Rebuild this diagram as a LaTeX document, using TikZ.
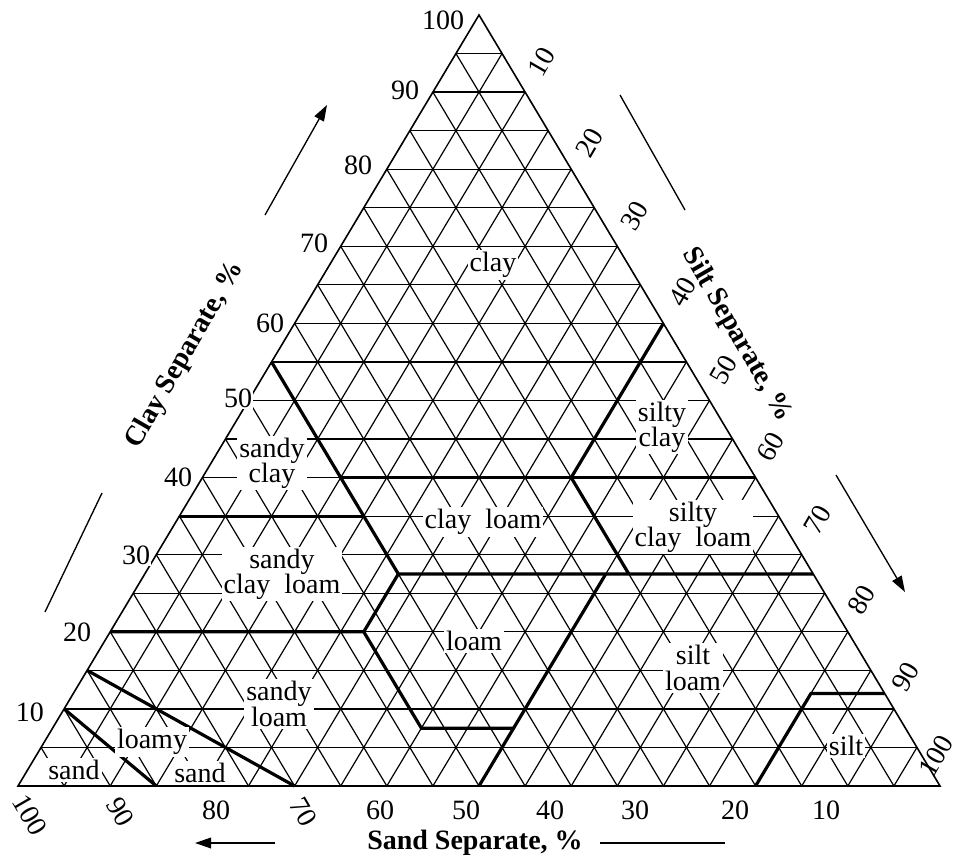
\documentclass[tikz,border=0pt]{standalone}
\usepackage{fontspec}
\setmainfont{Liberation Serif}
\usetikzlibrary{arrows.meta}
% ternary point: sand %, clay %
\newcommand{\stp}[2]{({940-9.22*(#1)-4.61*(#2)},{786-7.71*(#2)})}
\begin{document}
\begin{tikzpicture}[x=0.75pt,y=0.75pt,yscale=-1,xscale=1,
  grid/.style={line width=0.9pt},
  bound/.style={line width=2.4pt},
  lbl/.style={fill=white,inner sep=1.5pt,font=\fontsize{21}{21}\selectfont},
  num/.style={inner sep=1pt,font=\fontsize{21}{21}\selectfont},
  ttl/.style={font=\bfseries\fontsize{21}{21}\selectfont}]
\useasboundingbox (0,0) rectangle (960,863);
%Grid
\foreach \i in {5,10,...,95}{
  \draw[grid] \stp{100-\i}{\i} -- \stp{0}{\i};
  \draw[grid] \stp{\i}{0} -- \stp{\i}{100-\i};
  \draw[grid] \stp{100-\i}{0} -- \stp{0}{100-\i};
}
\draw[line width=1.2pt] \stp{100}{0} -- \stp{0}{0} -- \stp{0}{100} -- cycle;
%Class boundaries
\draw[bound] \stp{45}{55} -- \stp{45}{35};
\draw[bound] \stp{45}{40} -- \stp{0}{40};
\draw[bound] \stp{0}{60} -- \stp{20}{40} -- \stp{20}{27.5};
\draw[bound] \stp{65}{35} -- \stp{45}{35};
\draw[bound] \stp{45}{35} -- \stp{45}{27.5} -- \stp{0}{27.5};
\draw[bound] \stp{80}{20} -- \stp{52.5}{20} -- \stp{45}{27.5};
\draw[bound] \stp{52.5}{20} -- \stp{52.5}{7.5} -- \stp{42.5}{7.5};
\draw[bound] \stp{50}{0} -- \stp{22.5}{27.5};
\draw[bound] \stp{20}{0} -- \stp{8}{12} -- \stp{0}{12};
\draw[bound] \stp{90}{10} -- \stp{85}{0};
\draw[bound] \stp{85}{15} -- \stp{70}{0};
% Text Node
\node[lbl] (clay) at (493,265) {clay};
\node[lbl,align=center] (sandyclay) at (272,463) {sandy\\[-2pt]clay};
\node[lbl,align=center] (siltyclay) at (662,427) {silty\\[-2pt]clay};
\node[lbl] (clayloam) at (483,522) {clay\enspace loam};
\node[lbl,align=center] (siltyclayloam) at (693,527) {silty\\[-2pt]clay\enspace loam};
\node[lbl,align=center] (sandyclayloam) at (282,574) {sandy\\[-2pt]clay\enspace loam};
\node[lbl] (loam) at (474,641) {loam};
\node[lbl,align=center] (siltloam) at (693,668) {silt\\[-2pt]loam};
\node[lbl,align=center] (sandyloam) at (279,704) {sandy\\[-2pt]loam};
\node[lbl] (loamy) at (152,742) {loamy};
\node[lbl] (lsand) at (200,773) {sand};
\node[lbl] (sand) at (74,770) {sand};
\node[lbl] (silt) at (846,746) {silt};
% Clay numbers
\foreach \v/\x/\y in {100/443/20,90/405/90,80/358/165,70/314/243,60/270/323,50/238/398,40/178/477,30/136/555,20/77/632,10/30/712}
  \node[num,fill=white] (c\v) at (\x,\y) {\v};
% Silt numbers
\foreach \v/\x/\y in {10/542/62,20/590/143,30/635/216,40/683/292,50/724/370,60/771/447,70/818/520,80/862/600,90/906/677,100/936/756}
  \node[num,rotate=60] (s\v) at (\x,\y) {\v};
% Sand numbers
\foreach \v/\x/\y/\r in {100/30/815/-60,90/120/812/-60,80/216/810/0,70/303/812/-60,60/380/810/0,50/466/810/0,40/550/810/0,30/635/810/0,20/735/810/0,10/826/810/0}
  \node[num,rotate=\r] (d\v) at (\x,\y) {\v};
% Titles
\node[ttl,rotate=60] (claytitle) at (185,355) {Clay Separate, \%};
\node[ttl,rotate=-60] (silttitle) at (737,335) {Silt Separate, \%};
\node[ttl] (sandtitle) at (475,843) {Sand Separate, \%};
\coordinate (ca) at (265,215); \coordinate (cb) at (327,105);
\coordinate (cc) at (102,493); \coordinate (cd) at (45,612);
\coordinate (sa) at (620,95); \coordinate (sb) at (685,210);
\coordinate (sc) at (836,475); \coordinate (sd) at (905,592);
\coordinate (da) at (275,843); \coordinate (db) at (195,843);
\coordinate (dc) at (600,843); \coordinate (dd) at (725,843);
\draw[line width=1pt,-{Triangle[length=12pt,width=8pt]}] (ca) -- (cb);
\draw[line width=1pt] (cc) -- (cd);
\draw[line width=1pt] (sa) -- (sb);
\draw[line width=1pt,-{Triangle[length=12pt,width=8pt]}] (sc) -- (sd);
\draw[line width=1pt,-{Triangle[length=12pt,width=8pt]}] (da) -- (db);
\draw[line width=1pt] (dc) -- (dd);
\end{tikzpicture}
\end{document}
